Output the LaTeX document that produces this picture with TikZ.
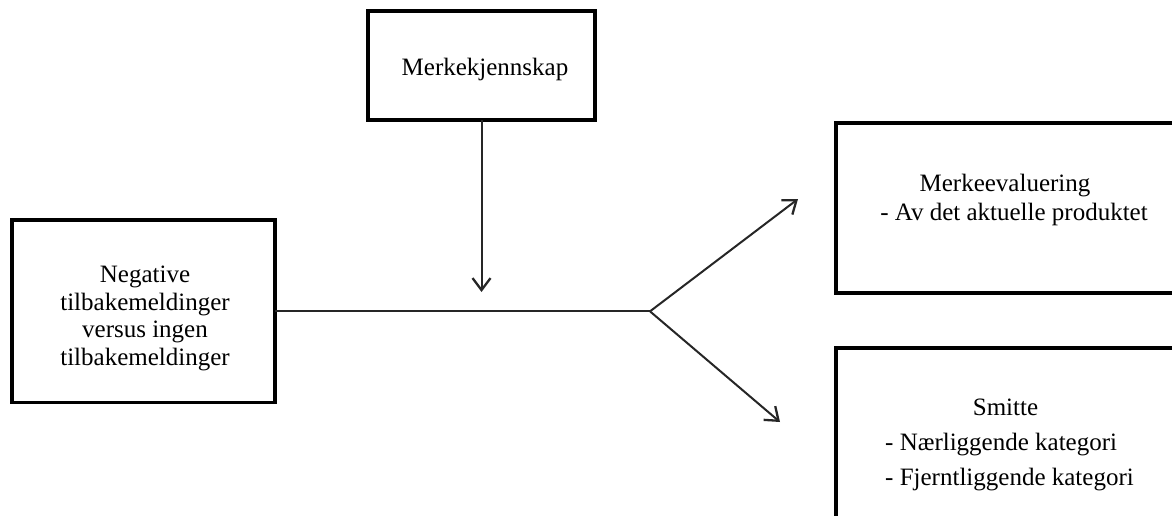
\documentclass[tikz,border=0pt]{standalone}
\usepackage{fontspec}
\setmainfont{Liberation Serif}
\usetikzlibrary{arrows.meta}
\begin{document}
\begin{tikzpicture}[x=1pt,y=-1pt,
  boxshape/.style={draw, line width=3.5pt, inner sep=0pt, outer sep=0pt, rectangle},
  txt/.style={font=\fontsize{25}{27.5}\selectfont, inner sep=0pt, align=center, text=black},
  conn/.style={line width=2pt, draw=black!85},
  arr/.style={conn, -{Straight Barb[length=12pt,width=18pt,line width=2.3pt]}}]
\useasboundingbox (0,0) rectangle (1172,515);
\begin{scope}
\clip (0,0) rectangle (1172,515);
% boxes
\node[boxshape, minimum width=227pt, minimum height=109pt] (kj) at (481.5,65.5) {};
\node[boxshape, minimum width=263pt, minimum height=182.7pt] (neg) at (143.5,311.35) {};
\node[boxshape, minimum width=364pt, minimum height=170pt] (ev) at (1018,208) {};
\node[boxshape, minimum width=364pt, minimum height=212pt] (sm) at (1018,454) {};
% texts
\node[txt, anchor=base] (kjt) at (485,75) {Merkekjennskap};
\node[txt] (negt) at (145,318.5) {Negative\\tilbakemeldinger\\versus ingen\\tilbakemeldinger};
\node[txt, anchor=base] (evt1) at (1005,191.5) {Merkeevaluering};
\node[txt, anchor=base] (evt2) at (1014,220) {- Av det aktuelle produktet};
\node[txt, anchor=base] (smt1) at (1005.5,415) {Smitte};
\node[txt, anchor=base west] (smt2) at (885,450) {- Nærliggende kategori};
\node[txt, anchor=base west] (smt3) at (885,485) {- Fjerntliggende kategori};
% connectors
\coordinate (fork) at (650,311.35);
\coordinate (tipA) at (798,199);
\coordinate (tipB) at (780,422);
\coordinate (tipK) at (481.5,292);
\draw[conn] (neg.east) -- (fork);
\draw[arr] (fork) -- (tipA);
\draw[arr] (fork) -- (tipB);
\draw[arr] (kj.south) -- (tipK);
\end{scope}
\end{tikzpicture}
\end{document}
